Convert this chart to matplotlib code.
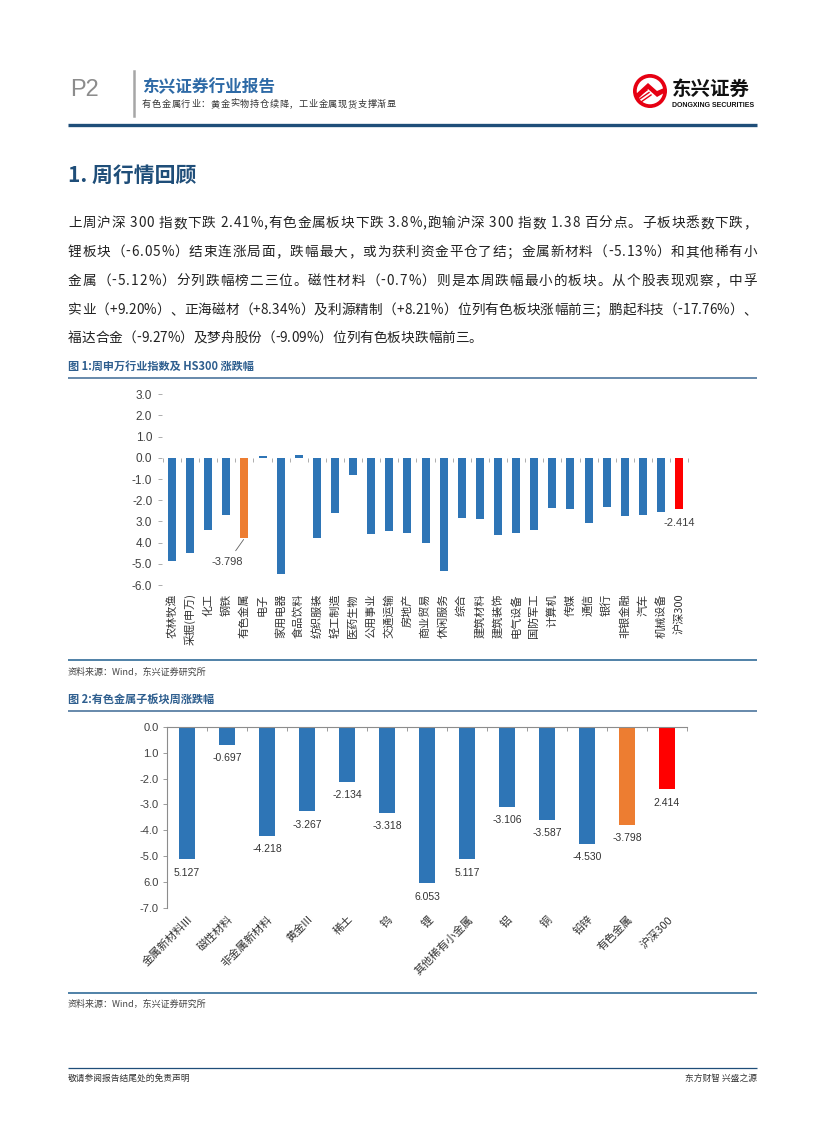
import numpy as np
import matplotlib
matplotlib.use('Agg')
import matplotlib.pyplot as plt
import matplotlib.transforms as mtransforms
from matplotlib.font_manager import FontProperties
from matplotlib.patches import Circle, Polygon

plt.rcParams['font.family'] = ['Noto Sans CJK SC', 'DejaVu Sans']
plt.rcParams['axes.unicode_minus'] = False

W, H = 827, 1122
BLUE = '#2e75b6'
ORANGE = '#ed7d31'
RED = '#ff0000'
NAVY = '#1f4e79'
LOGO_RED = '#e60012'

# ---- 图1: 申万一级行业及沪深300周涨跌幅 (%) ----
sw_names = ['农林牧渔', '采掘(申万)', '化工', '钢铁', '有色金属', '电子', '家用电器', '食品饮料',
            '纺织服装', '轻工制造', '医药生物', '公用事业', '交通运输', '房地产', '商业贸易',
            '休闲服务', '综合', '建筑材料', '建筑装饰', '电气设备', '国防军工', '计算机',
            '传媒', '通信', '银行', '非银金融', '汽车', '机械设备', '沪深300']
sw_chg = [-4.89, -4.50, -3.39, -2.69, -3.798, 0.08, -5.50, 0.15,
          -3.77, -2.60, -0.81, -3.58, -3.47, -3.53, -4.00,
          -5.36, -2.83, -2.88, -3.63, -3.53, -3.39, -2.36,
          -2.41, -3.06, -2.31, -2.73, -2.69, -2.55, -2.414]
sw_yticks = [3, 2, 1, 0, -1, -2, -3, -4, -5, -6]
sw_yticklabels = ['3.0', '2.0', '1.0', '0.0', '-1.0', '-2.0', '3.0', '4.0', '-5.0', '-6.0']

# ---- 图2: 有色金属子板块周涨跌幅 (%) ----
sub_names = ['金属新材料III', '磁性材料', '非金属新材料', '黄金III', '稀土', '钨', '锂',
             '其他稀有小金属', '铝', '铜', '铅锌', '有色金属', '沪深300']
sub_chg = [-5.127, -0.697, -4.218, -3.267, -2.134, -3.318, -6.053,
           -5.117, -3.106, -3.587, -4.530, -3.798, -2.414]
sub_labels = ['5.127', '-0.697', '-4.218', '-3.267', '-2.134', '-3.318', '6.053',
              '5.117', '-3.106', '-3.587', '-4.530', '-3.798', '2.414']
sub_yticks = [0, -1, -2, -3, -4, -5, -6, -7]
sub_yticklabels = ['0.0', '1.0', '-2.0', '-3.0', '-4.0', '-5.0', '6.0', '-7.0']

para_lines = [
    '上周沪深 300 指数下跌 2.41%,有色金属板块下跌 3.8%,跑输沪深 300 指数 1.38 百分点。子板块悉数下跌，',
    '锂板块（-6.05%）结束连涨局面，跌幅最大，或为获利资金平仓了结；金属新材料（-5.13%）和其他稀有小',
    '金属（-5.12%）分列跌幅榜二三位。磁性材料（-0.7%）则是本周跌幅最小的板块。从个股表现观察，中孚',
    '实业（+9.20%）、正海磁材（+8.34%）及利源精制（+8.21%）位列有色板块涨幅前三；鹏起科技（-17.76%）、',
    '福达合金（-9.27%）及梦舟股份（-9.09%）位列有色板块跌幅前三。',
]
subtitle = '有色金属行业：黄金实物持仓续降，工业金属现货支撑渐显'


def bar_color(name):
    if name == '有色金属':
        return ORANGE
    if name == '沪深300':
        return RED
    return BLUE


fig = plt.figure(figsize=(W / 100, H / 100), dpi=100)

# 整页背景坐标系, 用像素坐标 (y 向下)
bg = fig.add_axes([0, 0, 1, 1])
bg.set_xlim(0, W)
bg.set_ylim(H, 0)
bg.axis('off')
renderer = fig.canvas.get_renderer()


def add_axes_px(left, top, right, bottom):
    return fig.add_axes([left / W, 1 - bottom / H, (right - left) / W, (bottom - top) / H])


def hline(y, lw, color=NAVY, x0=68, x1=757):
    bg.plot([x0, x1], [y, y], color=color, lw=lw, solid_capstyle='butt')


def draw_line(text, y, prop, x0, x1, justify=True, color='#222222'):
    """逐字放置一行文字, 两端对齐"""
    tw = lambda s: renderer.get_text_width_height_descent(s, prop, ismath=False)[0]
    base = tw('xx')
    widths = [tw('x' + c + 'x') - base for c in text]
    gap = (x1 - x0 - sum(widths)) / (len(text) - 1) if justify else 0
    x = x0
    for c, w in zip(text, widths):
        bg.text(x, y, c, fontproperties=prop, ha='left', va='baseline', color=color)
        x += w + gap


# ---------------- 页眉 ----------------
bg.text(70, 90, 'P2', fontsize=17, color='#8c8c8c', va='center', ha='left',
        family=['Liberation Sans'])
bg.plot([134, 134], [71, 116], color='#a6a6a6', lw=1.8)
bg.text(142, 87, '东兴证券行业报告', fontsize=12, color='#2e6aa6', fontweight='bold',
        va='center', ha='left')
sub_prop = FontProperties(family=['Noto Sans CJK SC'], size=6.6)
draw_line(subtitle, 107, sub_prop, 142, 396, color='#333333')

# logo
cx, cy, r = 650, 91, 17
bg.add_patch(Circle((cx, cy), r, fc=LOGO_RED, ec='none'))
bg.add_patch(Circle((cx, cy), r * 0.78, fc='white', ec='none'))
bg.add_patch(Polygon([(cx - 14, cy + 3), (cx - 2, cy - 8), (cx + 7, cy), (cx + 14, cy - 3),
                      (cx + 14, cy + 2), (cx + 7, cy + 6), (cx - 2, cy - 2), (cx - 12, cy + 8)],
                     fc=LOGO_RED, ec='none'))
for k in range(3):
    bg.plot([cx - 13 + k * 2, cx - 3 + k * 2], [cy + 6 + k * 2.5, cy - 1 + k * 2.5],
            color=LOGO_RED, lw=1.0)
bg.text(672, 89, '东兴证券', fontsize=14, fontweight='bold', color='#111111',
        va='center', ha='left')
bg.text(672, 105, 'DONGXING SECURITIES', fontsize=5.0, fontweight='bold', color='#111111',
        va='center', ha='left', family=['Liberation Sans'])

hline(125, 2.4)

# ---------------- 正文 ----------------
bg.text(68, 175, '1. 周行情回顾', fontsize=15, fontweight='bold', color=NAVY,
        va='center', ha='left')

body_prop = FontProperties(family=['Noto Sans CJK SC'], size=9.8)
line_ys = [227, 256, 285, 314, 342]
for i, (line, y) in enumerate(zip(para_lines, line_ys)):
    draw_line(line, y, body_prop, 68, 757, justify=(i < len(para_lines) - 1))

# ---------------- 图1 ----------------
bg.text(68, 366, '图 1:周申万行业指数及 HS300 涨跌幅', fontsize=8, fontweight='bold',
        color='#2f5f8f', va='center', ha='left')
hline(378, 1.1, color='#3d6a94')

ax1 = add_axes_px(162, 394.3, 690, 585)
ax1.set_facecolor('none')
x1 = np.arange(len(sw_names))
ax1.bar(x1, sw_chg, width=0.44, color=[bar_color(n) for n in sw_names], zorder=2)
ax1.set_xlim(-0.55, len(sw_names) - 1 + 0.6)
ax1.set_ylim(-6, 3)
for s in ['left', 'right', 'bottom']:
    ax1.spines[s].set_visible(False)
ax1.spines['top'].set_position(('data', 0))
ax1.spines['top'].set_color('none')
ax1.set_yticks(sw_yticks, sw_yticklabels)
ax1.tick_params(axis='y', direction='out', length=3, width=0.6, color='#a0a0a0',
                labelsize=8.5, labelcolor='#404040', pad=4)
for lab in ax1.get_yticklabels():
    lab.set_family(['Liberation Sans'])
ax1.set_xticks(x1, sw_names, rotation=90)
ax1.set_xticks(np.arange(len(sw_names) + 1) - 0.5, minor=True)
ax1.tick_params(axis='x', which='major', length=0, labelsize=8, labelcolor='#333333', pad=6)
ax1.tick_params(axis='x', which='minor', top=True, bottom=False, direction='in',
                length=3, width=0.6, color='#a0a0a0')

i_ys = sw_names.index('有色金属')
ax1.annotate('-3.798', xy=(x1[i_ys], sw_chg[i_ys]), xytext=(-12, -17),
             textcoords='offset points', ha='center', va='center', fontsize=8,
             color='#404040', family=['Liberation Sans'],
             arrowprops=dict(arrowstyle='-', color='#606060', lw=0.6, shrinkA=3, shrinkB=1))
i_hs = sw_names.index('沪深300')
ax1.annotate('-2.414', xy=(x1[i_hs], sw_chg[i_hs]), xytext=(0, -10),
             textcoords='offset points', ha='center', va='center', fontsize=8,
             color='#404040', family=['Liberation Sans'])

hline(660, 1.1, color='#1f5f8f')
bg.text(68, 672, '资料来源：Wind，东兴证券研究所', fontsize=6.5, color='#444444',
        va='center', ha='left')

# ---------------- 图2 ----------------
bg.text(68, 699, '图 2:有色金属子板块周涨跌幅', fontsize=8, fontweight='bold',
        color='#2f5f8f', va='center', ha='left')
hline(711, 1.1, color='#3d6a94')

ax2 = add_axes_px(167, 726.7, 687, 908)
ax2.set_facecolor('none')
x2 = np.arange(len(sub_names))
ax2.bar(x2, sub_chg, width=0.42, color=[bar_color(n) for n in sub_names], zorder=2)
ax2.set_xlim(-0.5, len(sub_names) - 0.5)
ax2.set_ylim(-7, 0)
for s in ['right', 'bottom']:
    ax2.spines[s].set_visible(False)
for s in ['left', 'top']:
    ax2.spines[s].set_color('#8c8c8c')
    ax2.spines[s].set_linewidth(0.8)
ax2.set_yticks(sub_yticks, sub_yticklabels)
ax2.tick_params(axis='y', direction='out', length=3, width=0.6, color='#8c8c8c',
                labelsize=8, labelcolor='#404040', pad=3)
for lab in ax2.get_yticklabels():
    lab.set_family(['Liberation Sans'])
ax2.set_xticks(x2, sub_names)
ax2.set_xticks(np.arange(len(sub_names) + 1) - 0.5, minor=True)
ax2.tick_params(axis='x', which='major', length=0, labelsize=8, labelcolor='#333333', pad=7)
ax2.tick_params(axis='x', which='minor', top=True, bottom=False, direction='in',
                length=3, width=0.6, color='#8c8c8c')
shift = mtransforms.ScaledTranslation(4 / 100, 0, fig.dpi_scale_trans)
for lab in ax2.get_xticklabels():
    lab.set_rotation(45)
    lab.set_ha('right')
    lab.set_va('center')
    lab.set_rotation_mode('anchor')
    lab.set_transform(lab.get_transform() + shift)

for xi, v, lbl in zip(x2, sub_chg, sub_labels):
    ax2.annotate(lbl, xy=(xi, v), xytext=(0, -6), textcoords='offset points',
                 ha='center', va='top', fontsize=7.5, color='#333333',
                 family=['Liberation Sans'])

hline(993, 1.1, color='#1f5f8f')
bg.text(68, 1004, '资料来源：Wind，东兴证券研究所', fontsize=6.5, color='#444444',
        va='center', ha='left')

# ---------------- 页脚 ----------------
hline(1068, 0.9)
bg.text(68, 1078, '敬请参阅报告结尾处的免责声明', fontsize=6.3, color='#333333',
        va='center', ha='left')
bg.text(757, 1078, '东方财智 兴盛之源', fontsize=6.3, color='#333333',
        va='center', ha='right')

fig.savefig('out.png', dpi=100)
